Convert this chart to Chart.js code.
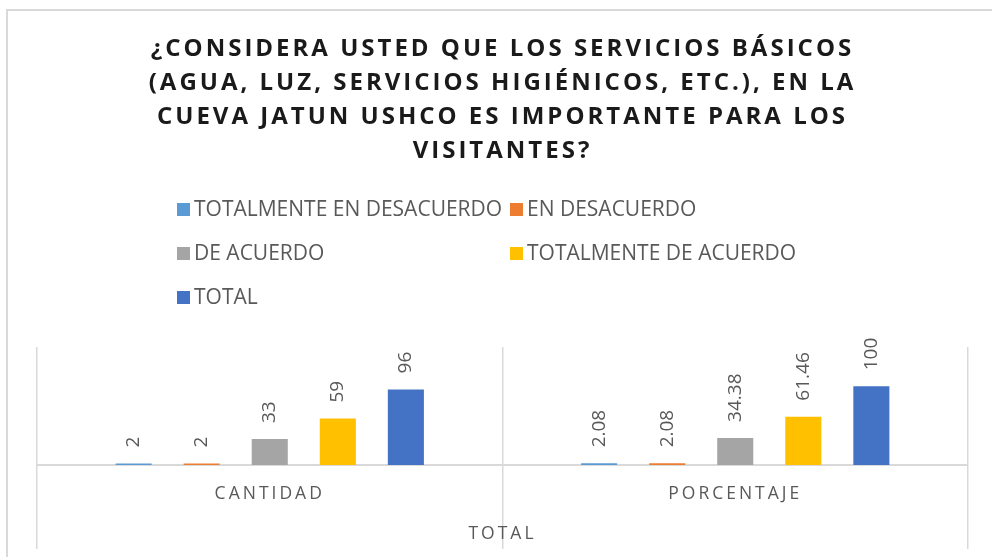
<!DOCTYPE html>
<html>
<head>
<meta charset="utf-8">
<script src="https://cdn.jsdelivr.net/npm/chart.js@4"></script>
<style>
  body { margin: 0; background: #fff; overflow: hidden; }
  #box { position: absolute; left: 6px; top: 9px; width: 990px; height: 560px; border: 2px solid #d9d9d9; }
</style>
</head>
<body>
<div id="box"><canvas id="myChart" width="990" height="560"></canvas></div>
<script>
// data
var categories = ["CANTIDAD", "PORCENTAJE"];
var seriesNames = ["TOTALMENTE EN DESACUERDO", "EN DESACUERDO", "DE ACUERDO", "TOTALMENTE DE ACUERDO", "TOTAL"];
var totDesacuerdo = [2, 2.08];
var enDesacuerdo = [2, 2.08];
var deAcuerdo = [33, 34.38];
var totAcuerdo = [59, 61.46];
var total = [96, 100];
var colors = ["#5B9BD5", "#ED7D31", "#A5A5A5", "#FFC000", "#4472C4"];

var titleLines = [
  "¿CONSIDERA USTED QUE LOS SERVICIOS BÁSICOS",
  "(AGUA, LUZ, SERVICIOS HIGIÉNICOS, ETC.), EN LA",
  "CUEVA JATUN USHCO ES IMPORTANTE PARA LOS",
  "VISITANTES?"
];

var values = [totDesacuerdo, enDesacuerdo, deAcuerdo, totAcuerdo, total];

Chart.defaults.font.family = "'Open Sans', sans-serif";
Chart.defaults.color = "#595959";

// letter spacing for title + axis text, off again for the bars
var spacing = {
  id: "spacing",
  beforeDraw: function (chart) { chart.ctx.letterSpacing = "3px"; },
  beforeDatasetsDraw: function (chart) { chart.ctx.letterSpacing = "0px"; }
};

// rotated value labels above each bar
var barLabels = {
  id: "barLabels",
  afterDatasetsDraw: function (chart) {
    var ctx = chart.ctx;
    ctx.save();
    ctx.font = "19px 'Open Sans'";
    ctx.fillStyle = "#595959";
    ctx.textAlign = "left";
    ctx.textBaseline = "middle";
    chart.data.datasets.forEach(function (ds, i) {
      chart.getDatasetMeta(i).data.forEach(function (bar, j) {
        ctx.save();
        ctx.translate(bar.x, bar.y - 16);
        ctx.rotate(-Math.PI / 2);
        ctx.fillText(String(ds.data[j]), 0, 0);
        ctx.restore();
      });
    });
    ctx.restore();
  }
};

// legend laid out in two columns like the original
var gridLegend = {
  id: "gridLegend",
  afterDraw: function (chart) {
    var ctx = chart.ctx;
    var cols = [169, 502];
    var rows = [198, 242, 286];
    ctx.save();
    ctx.letterSpacing = "0px";
    ctx.font = "21px 'Open Sans'";
    ctx.textAlign = "left";
    ctx.textBaseline = "middle";
    chart.data.datasets.forEach(function (ds, i) {
      var x = cols[i % 2];
      var y = rows[Math.floor(i / 2)];
      ctx.fillStyle = ds.backgroundColor;
      ctx.fillRect(x, y - 6, 13, 13);
      ctx.fillStyle = "#595959";
      ctx.fillText(ds.label, x + 17, y + 1);
    });
    ctx.restore();
  }
};

var datasets = seriesNames.map(function (name, i) {
  return {
    label: name,
    data: values[i],
    backgroundColor: colors[i],
    categoryPercentage: 0.731,
    barPercentage: 0.53
  };
});

var chart = new Chart(document.getElementById("myChart").getContext("2d"), {
  type: "bar",
  data: { labels: categories, datasets: datasets },
  options: {
    responsive: false,
    animation: false,
    devicePixelRatio: 1,
    layout: { padding: { left: 29, right: 30, top: 0, bottom: 0 } },
    plugins: {
      legend: { display: false },
      tooltip: { enabled: false },
      title: {
        display: true,
        text: titleLines,
        color: "#1a1a1a",
        font: { size: 24, weight: "bold", lineHeight: 34 / 24 },
        padding: { top: 21, bottom: 179 }
      }
    },
    scales: {
      x: {
        grid: { offset: true, color: "#d9d9d9", lineWidth: 1.5, tickLength: 84, tickColor: "#d9d9d9" },
        border: { color: "#d9d9d9", width: 2 },
        ticks: { padding: -65, font: { size: 17.5 }, color: "#595959" },
        title: { display: true, text: "TOTAL", font: { size: 17.5 }, color: "#595959", padding: { top: 0, bottom: 26 } },
        afterFit: function (s) { s.height = 106; }
      },
      y: { display: false, min: 0, max: 150 }
    }
  },
  plugins: [spacing, barLabels, gridLegend]
});
</script>
</body>
</html>
